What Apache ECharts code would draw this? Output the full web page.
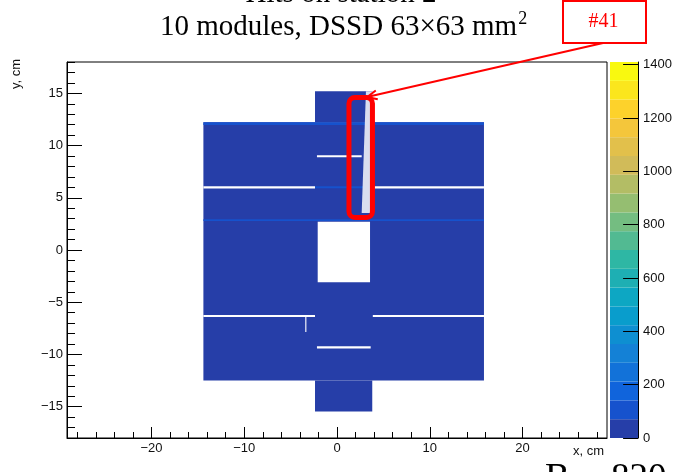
<!DOCTYPE html>
<html><head><meta charset="utf-8">
<script src="https://cdn.jsdelivr.net/npm/echarts@6/dist/echarts.min.js"></script>
<style>html,body{margin:0;padding:0;background:#fff;}#chart{width:675px;height:472px;}</style>
</head><body><div id="chart"></div>
<script>
// ---------------- data (cm, counts) ----------------
const xRange = [-29.1, 29.1];
const yRange = [-18, 18];
const xMajorTicks = [-20, -10, 0, 10, 20];
const xMinorTicks = [-28,-26,-24,-22,-18,-16,-14,-12,-8,-6,-4,-2,2,4,6,8,12,14,16,18,22,24,26,28];
const yMajorTicks = [-15, -10, -5, 0, 5, 10, 15];
const yMinorTicks = [-18,-17,-16,-14,-13,-12,-11,-9,-8,-7,-6,-4,-3,-2,-1,1,2,3,4,6,7,8,9,11,12,13,14,16,17,18];
const zTicks = [0, 200, 400, 600, 800, 1000, 1200, 1400];
const zMin = 0, zMax = 1410, nContours = 20;

// hit-map regions: x0, x1, y0, y1 (cm) and counts per bin
const cellX0 =   [-14.4, -2.37, -2.37, -14.4, -14.4, -2.37, -14.4,  3.80, -2.16, -14.4,  3.86, -2.16, -3.42, -2.08];
const cellX1 =   [15.84,  3.80,  3.80, 15.84, 15.84,  3.80, -2.37, 15.84,  2.66, -2.37, 15.84,  3.63, -3.30,  3.56];
const cellY0 =   [-12.5, 12.22, -15.47, 11.98, 2.78,  5.92,  5.90,  5.90,  8.88, -6.42, -6.42, -9.42, -7.85, -3.09];
const cellY1 =   [12.22, 15.20, -12.5, 12.22,  2.95,  6.10,  6.10,  6.10,  9.06, -6.22, -6.22, -9.22, -6.30,  2.71];
const cellCounts = [35,    35,    35,    100,   100,   100,   0,     0,     0,     0,     0,     0,     0,     0];

// sparsely hit part of module #41 (polygon vertices, cm)
const sparseX = [2.66, 3.12, 3.82, 3.82];
const sparseY = [3.54, 15.20, 15.20, 3.54];

// annotation (cm)
const boxX = [1.29, 3.82];
const boxY = [3.11, 14.59];
const arrowTip = [3.23, 14.64];

// ---------------- palette (ROOT kBird, 255 colours) ----------------
const birdStops = [0, 0.125, 0.25, 0.375, 0.5, 0.625, 0.75, 0.875, 1];
const birdR = [0.2082,0.0592,0.0780,0.0232,0.1802,0.5301,0.8186,0.9956,0.9764];
const birdG = [0.1664,0.3599,0.5041,0.6419,0.7178,0.7492,0.7328,0.7862,0.9832];
const birdB = [0.5293,0.8684,0.8385,0.7914,0.6425,0.4662,0.3499,0.1968,0.0539];
const NCOL = 255;
const table = [];
for (let g = 1; g < birdStops.length; g++) {
  const n = Math.floor(NCOL * birdStops[g]) - Math.floor(NCOL * birdStops[g - 1]);
  for (let c = 0; c < n; c++) {
    const t = c / n;
    const r = birdR[g-1] + t * (birdR[g] - birdR[g-1]);
    const gg = birdG[g-1] + t * (birdG[g] - birdG[g-1]);
    const b = birdB[g-1] + t * (birdB[g] - birdB[g-1]);
    table.push('rgb(' + Math.round(r*255) + ',' + Math.round(gg*255) + ',' + Math.round(b*255) + ')');
  }
}
while (table.length < NCOL) table.push(table[table.length - 1]);
const step = (zMax - zMin) / nContours;
const pieces = [];
const barData = [];
for (let k = 0; k < nContours; k++) {
  const idx = Math.min(NCOL - 1, Math.floor((k + 0.99) * NCOL / nContours));
  const lo = zMin + k * step, hi = zMin + (k + 1) * step;
  pieces.push({ gt: lo, lte: hi, color: table[idx] });
  barData.push([0, 1, lo, hi, (lo + hi) / 2]);
}

const cellData = cellX0.map((v, i) => [v, cellX1[i], cellY0[i], cellY1[i], cellCounts[i]]);
const sparseData = sparseX.map((v, i) => [v, sparseY[i]]);

const minus = v => String(v).replace('-', '\u2212');
const plain = v => String(v);
const SANS = 'Liberation Sans';
const SERIF = 'Liberation Serif';

function renderCell(params, api) {
  const a = api.coord([api.value(0), api.value(3)]);
  const b = api.coord([api.value(1), api.value(2)]);
  return { type: 'rect', shape: { x: a[0], y: a[1], width: b[0] - a[0], height: b[1] - a[1] },
           style: { fill: api.visual('color') } };
}
function renderSparse(params, api) {
  if (params.dataIndexInside !== 0) return null;
  const pts = [];
  for (let i = 0; i < sparseX.length; i++) pts.push(api.coord([api.value(0, i), api.value(1, i)]));
  return { type: 'polygon', shape: { points: pts }, style: { fill: '#d9ddef' } };
}

const chart = echarts.init(document.getElementById('chart'), null, { renderer: 'canvas' });
const axisBase = (extra) => Object.assign({ type: 'value', splitLine: { show: false } }, extra);

chart.setOption({
  animation: false,
  backgroundColor: '#ffffff',
  grid: [
    { left: 67, right: 68, top: 62, bottom: 34, show: true, borderColor: '#000', borderWidth: 1 },
    { left: 610, width: 30, top: 62, bottom: 34, show: false }
  ],
  xAxis: [
    axisBase({ gridIndex: 0, min: xRange[0], max: xRange[1], position: 'bottom',
      axisLine: { show: true, onZero: false, lineStyle: { color: '#000', width: 1 } },
      axisTick: { show: true, inside: true, length: 11, customValues: xMajorTicks, lineStyle: { color: '#000' } },
      axisLabel: { show: true, customValues: xMajorTicks, formatter: minus, fontSize: 13, fontFamily: SANS, color: '#111', margin: 4 } }),
    axisBase({ gridIndex: 0, min: xRange[0], max: xRange[1], position: 'bottom',
      axisLine: { show: false, onZero: false },
      axisTick: { show: true, inside: true, length: 6, customValues: xMinorTicks, lineStyle: { color: '#000' } },
      axisLabel: { show: false } }),
    axisBase({ gridIndex: 1, min: 0, max: 1, show: false })
  ],
  yAxis: [
    axisBase({ gridIndex: 0, min: yRange[0], max: yRange[1], position: 'left',
      axisLine: { show: true, onZero: false, lineStyle: { color: '#000', width: 1 } },
      axisTick: { show: true, inside: true, length: 15, customValues: yMajorTicks, lineStyle: { color: '#000' } },
      axisLabel: { show: true, customValues: yMajorTicks, formatter: minus, fontSize: 13, fontFamily: SANS, color: '#111', margin: 4 } }),
    axisBase({ gridIndex: 0, min: yRange[0], max: yRange[1], position: 'left',
      axisLine: { show: false, onZero: false },
      axisTick: { show: true, inside: true, length: 8, customValues: yMinorTicks, lineStyle: { color: '#000' } },
      axisLabel: { show: false } }),
    axisBase({ gridIndex: 1, min: zMin, max: zMax, position: 'right', z: 20,
      axisLine: { show: true, onZero: false, lineStyle: { color: '#000', width: 1 } },
      axisTick: { show: true, inside: true, length: 15, customValues: zTicks, lineStyle: { color: '#000', width: 1 } },
      axisLabel: { show: true, customValues: zTicks, formatter: plain, fontSize: 13, fontFamily: SANS, color: '#111', margin: 5 } })
  ],
  visualMap: {
    type: 'piecewise', show: false, dimension: 4, seriesIndex: [0, 2],
    pieces: pieces, outOfRange: { color: '#ffffff' }
  },
  series: [
    { type: 'custom', name: 'hits', xAxisIndex: 0, yAxisIndex: 0, clip: true,
      dimensions: ['x0', 'x1', 'y0', 'y1', 'counts'], encode: { x: [0, 1], y: [2, 3] },
      renderItem: renderCell, data: cellData, z: 2 },
    { type: 'custom', name: 'sparse', xAxisIndex: 0, yAxisIndex: 0, clip: true,
      encode: { x: 0, y: 1 }, renderItem: renderSparse, data: sparseData, z: 3 },
    { type: 'custom', name: 'palette', xAxisIndex: 2, yAxisIndex: 2,
      dimensions: ['a', 'b', 'lo', 'hi', 'mid'], encode: { x: [0, 1], y: [2, 3] },
      renderItem: renderCell, data: barData, z: 1 }
  ]
});

// ---------------- annotations / texts ----------------
const ctx = document.createElement('canvas').getContext('2d');
ctx.font = '29px "' + SERIF + '"';
const title2 = '10 modules, DSSD 63\u00d763 mm';
const t2w = ctx.measureText(title2).width;
const pA = chart.convertToPixel({ xAxisIndex: 0, yAxisIndex: 0 }, [boxX[0], boxY[1]]);
const pB = chart.convertToPixel({ xAxisIndex: 0, yAxisIndex: 0 }, [boxX[1], boxY[0]]);
const tip = chart.convertToPixel({ xAxisIndex: 0, yAxisIndex: 0 }, arrowTip);
const tail = [603, 43];
const dx = tip[0] - tail[0], dy = tip[1] - tail[1];
const len = Math.hypot(dx, dy), ux = dx / len, uy = dy / len;
const ah = 11, aw = 0.42;
const w1 = [tip[0] - ah * (ux * Math.cos(aw) - uy * Math.sin(aw)), tip[1] - ah * (uy * Math.cos(aw) + ux * Math.sin(aw))];
const w2 = [tip[0] - ah * (ux * Math.cos(-aw) - uy * Math.sin(-aw)), tip[1] - ah * (uy * Math.cos(-aw) + ux * Math.sin(-aw))];

chart.setOption({
  graphic: [
    { type: 'text', x: 341, y: -6, z: 100, style: { text: 'Hits on station 2', font: '29px "' + SERIF + '"', fill: '#000', align: 'center', verticalAlign: 'middle' } },
    { type: 'text', x: 160, y: 27.2, z: 100, style: { text: title2, font: '29px "' + SERIF + '"', fill: '#000', align: 'left', verticalAlign: 'middle' } },
    { type: 'text', x: 160 + t2w + 1, y: 19.5, z: 100, style: { text: '2', font: '18px "' + SERIF + '"', fill: '#000', align: 'left', verticalAlign: 'middle' } },
    { type: 'text', x: 16.5, y: 59, rotation: Math.PI / 2, z: 100, style: { text: 'y, cm', font: '13px "' + SANS + '"', fill: '#111', align: 'right', verticalAlign: 'middle' } },
    { type: 'text', x: 604, y: 451, z: 100, style: { text: 'x, cm', font: '13px "' + SANS + '"', fill: '#111', align: 'right', verticalAlign: 'middle' } },
    { type: 'text', x: 545, y: 479, z: 100, style: { text: 'B', font: '37px "' + SERIF + '"', fill: '#000', align: 'left', verticalAlign: 'middle' } },
    { type: 'text', x: 611, y: 479, z: 100, style: { text: '820', font: '37px "' + SERIF + '"', fill: '#000', align: 'left', verticalAlign: 'middle' } },
    { type: 'rect', z: 100, shape: { x: 563, y: 1, width: 83, height: 42 }, style: { fill: '#fff', stroke: '#ff0000', lineWidth: 2 } },
    { type: 'text', x: 603.5, y: 22, z: 101, style: { text: '#41', font: '20px "' + SERIF + '"', fill: '#ff0000', align: 'center', verticalAlign: 'middle' } },
    { type: 'line', z: 100, shape: { x1: tail[0], y1: tail[1], x2: tip[0], y2: tip[1] }, style: { stroke: '#ff0000', lineWidth: 2 } },
    { type: 'polyline', z: 100, shape: { points: [w1, tip, w2] }, style: { stroke: '#ff0000', lineWidth: 2, fill: null } },
    { type: 'rect', z: 100, shape: { x: pA[0], y: pA[1], width: pB[0] - pA[0], height: pB[1] - pA[1], r: 6 }, style: { fill: null, stroke: '#ff0000', lineWidth: 5 } }
  ]
});
</script></body></html>
